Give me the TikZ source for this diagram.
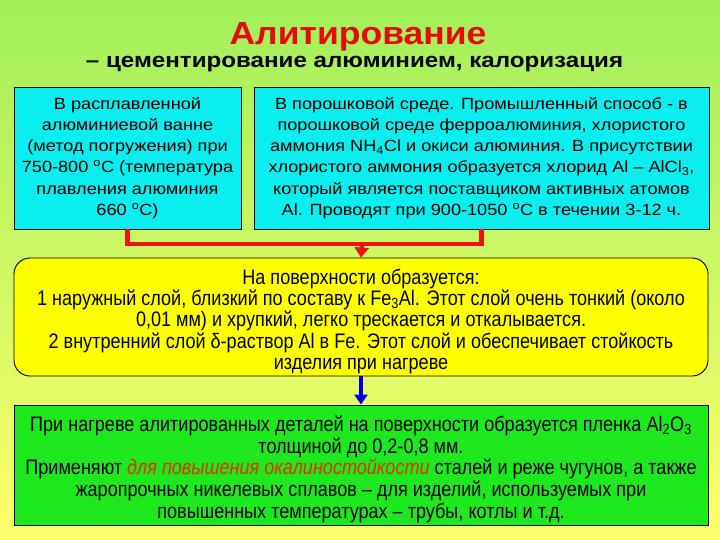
\documentclass[tikz,border=0pt]{standalone}
\usepackage{fontspec}
\setmainfont{Liberation Sans}
\newfontfamily\narrowfont[FakeStretch=0.86]{Liberation Sans}
\newfontfamily\widefont[FakeStretch=1.12]{Liberation Sans}
\newfontfamily\subfont[FakeStretch=1.15]{Liberation Sans}
\newfontfamily\titlefont[FakeStretch=1.11]{Liberation Sans}
\usetikzlibrary{arrows.meta,calc}
\definecolor{bgtop}{RGB}{160,240,90}
\definecolor{bgbot}{RGB}{255,255,110}
\definecolor{cyanbox}{RGB}{10,238,240}
\definecolor{yelbox}{RGB}{255,255,0}
\definecolor{grnbox}{RGB}{30,232,30}
\definecolor{titlered}{RGB}{230,10,10}
\definecolor{hilite}{RGB}{225,50,0}
\definecolor{conred}{RGB}{235,20,20}
\definecolor{conblue}{RGB}{0,0,225}
\newcommand{\downstrut}{\rule{0pt}{24pt}}
\tikzset{
  cbox/.style={draw=black, line width=0.9pt, fill=cyanbox, inner sep=0pt, align=center, font=\widefont\fontsize{16.2}{21.2}\selectfont},
  ybox/.style={draw=black, line width=0.9pt, fill=yelbox, rounded corners=16pt, inner sep=0pt, align=center, font=\narrowfont\fontsize{21}{21.3}\selectfont},
  gbox/.style={draw=black, line width=0.9pt, fill=grnbox, inner sep=0pt, align=center, font=\narrowfont\fontsize{21}{21.7}\selectfont},
  redcon/.style={draw=conred, line width=4.5pt},
  bluecon/.style={draw=conblue, line width=4.5pt, -{Triangle[length=10pt,width=13pt]}},
}
\begin{document}
\begin{tikzpicture}[x=1pt,y=-1pt]
\useasboundingbox (0,0) rectangle (720,540);
\shade[top color=bgtop, bottom color=bgbot] (0,0) rectangle (720,540);
% title
\node[anchor=base, text=titlered, font=\titlefont\bfseries\fontsize{32}{36}\selectfont] (title) at (358,45) {Алитирование};
\node[anchor=base, font=\subfont\bfseries\fontsize{21}{24}\selectfont] (sub) at (354.5,68) {– цементирование алюминием, калоризация};
% boxes
\node[cbox, minimum width=227pt, minimum height=142pt] (L) at (127.5,158) {В расплавленной\\ алюминиевой ванне\\ (метод погружения) при\\ 750-800 \textsuperscript{o}C (температура\\ плавления алюминия\\ 660 \textsuperscript{o}C)};
\node[cbox, minimum width=455pt, minimum height=142pt] (R) at (481.5,158) {В порошковой среде. Промышленный способ - в\\ порошковой среде ферроалюминия, хлористого\\ аммония NH\textsubscript{4}Cl и окиси алюминия. В присутствии\\ хлористого аммония образуется хлорид Al – AlCl\textsubscript{3},\\ который является поставщиком активных атомов\\ Al. Проводят при 900-1050 \textsuperscript{o}C в течении 3-12 ч.};
\node[ybox, minimum width=694pt, minimum height=118pt] (Y) at (361,317) {\downstrut На поверхности образуется:\\ 1 наружный слой, близкий по составу к Fe\textsubscript{3}Al. Этот слой очень тонкий (около\\ 0,01 мм) и хрупкий, легко трескается и откалывается.\\ 2 внутренний слой δ-раствор Al в Fe. Этот слой и обеспечивает стойкость\\ изделия при нагреве};
\node[gbox, minimum width=694pt, minimum height=120pt] (G) at (361,465) {\downstrut При нагреве алитированных деталей на поверхности образуется пленка Al\textsubscript{2}O\textsubscript{3}\\ толщиной до 0,2-0,8 мм.\\ Применяют \textcolor{hilite}{\itshape для повышения окалиностойкости} сталей и реже чугунов, а также\\ жаропрочных никелевых сплавов – для изделий, используемых при\\ повышенных температурах – трубы, котлы и т.д.};
% connectors
\coordinate (bus) at (362,244);
\draw[redcon] (L.south) -- (L.south |- bus) -- (R.south |- bus) -- (R.south);
\draw[redcon, -{Triangle[length=10pt,width=14pt]}] (bus) -- (Y.north);
\draw[bluecon] (Y.south) -- (G.north);
\end{tikzpicture}
\end{document}
